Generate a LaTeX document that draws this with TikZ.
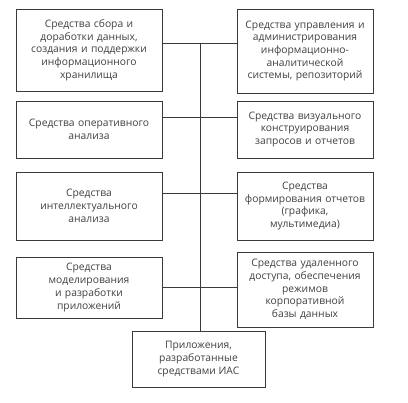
\documentclass[tikz,border=0pt]{standalone}
\usepackage{fontspec}
\setsansfont{Open Sans}
\usepackage{xcolor}
\usepackage{tikz}
\usetikzlibrary{positioning, calc}
\definecolor{boxline}{HTML}{3A3A3A}
\definecolor{boxtext}{HTML}{404040}

\begin{document}
\begin{tikzpicture}[x=1pt, y=-1pt,
    toolbox/.style={
        draw=boxline,
        line width=0.9pt,
        text=boxtext,
        font=\sffamily\fontsize{10.3}{12.7}\selectfont,
        align=center,
        inner sep=2pt
    },
    leftbox/.style={toolbox, minimum width=146pt, text width=140pt},
    rightbox/.style={toolbox, minimum width=136pt, text width=132pt},
    link/.style={draw=boxline, line width=0.9pt}
]
\useasboundingbox (0,0) rectangle (408,403);

% Left column
\node[leftbox, minimum height=82pt] (L1) at (89,50) {Средства сбора и\\доработки данных,\\создания и поддержки\\информационного\\хранилища};
\node[leftbox, minimum height=57pt] (L2) at (89,129.5) {Средства оперативного\\анализа};
\node[leftbox, minimum height=68pt] (L3) at (89,206) {Средства\\интеллектуального\\анализа};
\node[leftbox, minimum height=61pt] (L4) at (89,287.5) {Средства\\моделирования\\и разработки\\приложений};

% Right column
\node[rightbox, minimum height=84pt] (R1) at (305,51) {Средства управления и\\администрирования\\информационно-\\аналитической\\системы, репозиторий};
\node[rightbox, minimum height=57pt] (R2) at (305,129.5) {Средства визуального\\конструирования\\запросов и отчетов};
\node[rightbox, minimum height=68pt] (R3) at (305,206) {Средства\\формирования отчетов\\(графика,\\мультимедиа)};
\node[rightbox, minimum height=75pt] (R4) at (305,289.5) {Средства удаленного\\доступа, обеспечения\\режимов\\корпоративной\\базы данных};

% Bottom
\node[toolbox, minimum width=133pt, minimum height=56pt] (B) at (198.5,359) {Приложения,\\разработанные\\средствами ИАС};

% Trunk and branches
\coordinate (top) at (200,43);
\coordinate (j2) at (200,117);
\coordinate (j3) at (200,193);
\coordinate (j4) at (200,287);
\draw[link] (top) -- (top |- B.north);
\draw[link] (L1.east |- top) -- (R1.west |- top);
\draw[link] (L2.east |- j2) -- (R2.west |- j2);
\draw[link] (L3.east |- j3) -- (R3.west |- j3);
\draw[link] (L4.east |- j4) -- (R4.west |- j4);

\end{tikzpicture}
\end{document}
